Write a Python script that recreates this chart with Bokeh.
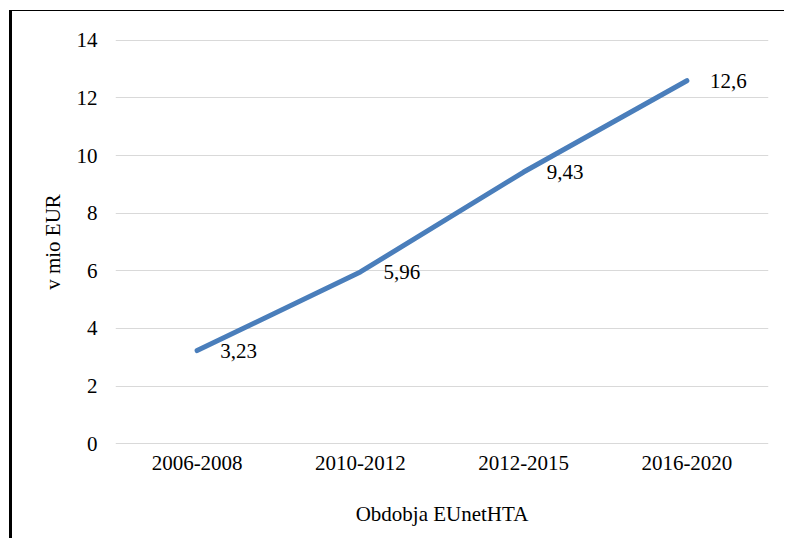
from bokeh.plotting import figure
from bokeh.models import Range1d, SingleIntervalTicker, ColumnDataSource, LabelSet
from bokeh.embed import file_html
from bokeh.resources import INLINE

periods = ["2006-2008", "2010-2012", "2012-2015", "2016-2020"]
values = [3.23, 5.96, 9.43, 12.6]
value_labels = [f"{v:g}".replace(".", ",") for v in values]
y_ticks = [0, 2, 4, 6, 8, 10, 12, 14]

FONT = "Liberation Serif"
FS = "21px"

src = ColumnDataSource(dict(x=periods, y=values, lab=value_labels))

p = figure(
    x_range=periods,
    y_range=Range1d(-0.1, 14.1),
    width=775, height=528,
    output_backend="svg", toolbar_location=None,
    min_border_left=103, min_border_right=19,
    min_border_top=26, min_border_bottom=93,
    x_axis_label="Obdobja EUnetHTA", y_axis_label="v mio EUR",
)
p.margin = (10, 0, 0, 9)
p.styles = {"border-left": "3px solid black", "border-top": "1px solid black"}
p.outline_line_color = None
p.background_fill_color = "white"
p.border_fill_color = "white"

p.line("x", "y", source=src, line_color="#4A7EBB", line_width=5, line_cap="round", line_join="round")

labels = LabelSet(x="x", y="y", text="lab", source=src, x_offset=23, y_offset=0,
                  text_align="left", text_baseline="middle",
                  text_font=FONT, text_font_size=FS, text_color="black")
p.add_layout(labels)

p.xgrid.grid_line_color = None
p.ygrid.grid_line_color = "#D9D9D9"
p.ygrid.grid_line_width = 1
p.yaxis.ticker = SingleIntervalTicker(interval=2)
p.yaxis.ticker.num_minor_ticks = 0

for ax in (p.xaxis[0], p.yaxis[0]):
    ax.axis_line_color = None
    ax.major_tick_line_color = None
    ax.minor_tick_line_color = None
    ax.major_tick_out = 0
    ax.major_tick_in = 0
    ax.major_label_text_font = FONT
    ax.major_label_text_font_size = FS
    ax.major_label_text_color = "black"
    ax.axis_label_text_font = FONT
    ax.axis_label_text_font_size = FS
    ax.axis_label_text_font_style = "normal"
    ax.axis_label_text_color = "black"

p.yaxis.major_label_standoff = 18
p.yaxis.axis_label_standoff = 9
p.xaxis.major_label_standoff = 9
p.xaxis.axis_label_standoff = 29

open("out.html", "w").write(file_html(p, INLINE))
